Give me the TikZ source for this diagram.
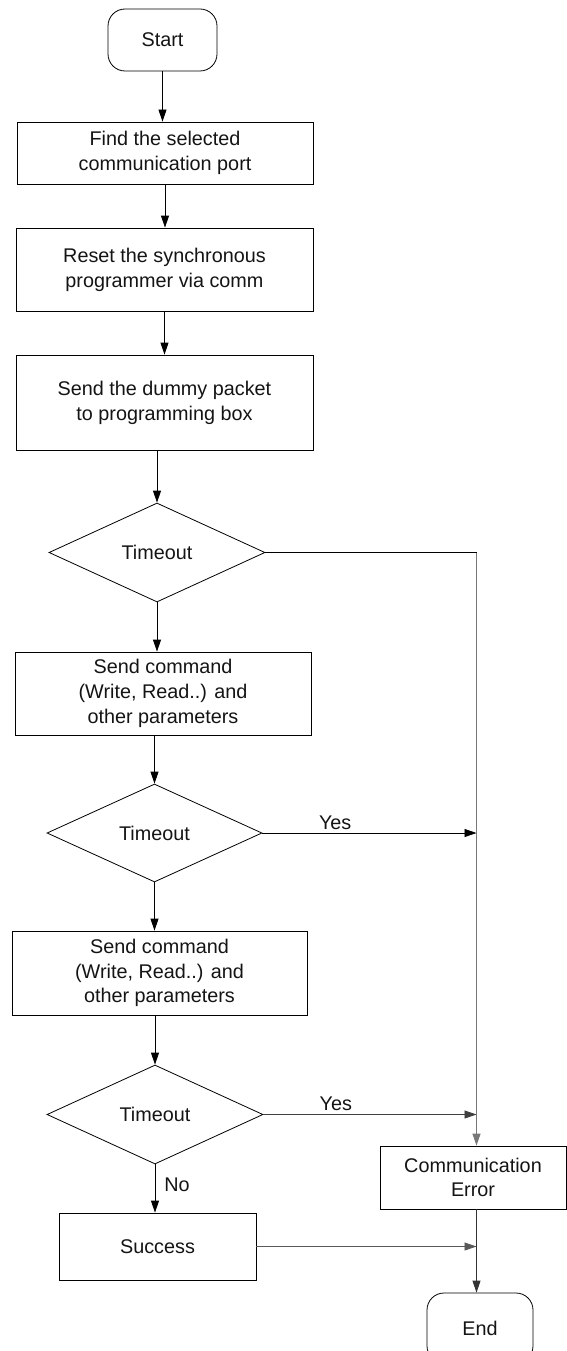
\documentclass[tikz,border=0pt]{standalone}
\usepackage{fontspec}
\setmainfont{Liberation Sans}
\usetikzlibrary{arrows.meta,shapes.geometric}
\definecolor{railgray}{RGB}{120,120,120}
\begin{document}
\begin{tikzpicture}[x=1pt,y=-1pt,
  font=\fontsize{19.8}{24.8}\selectfont,
  every node/.style={inner sep=0pt, align=center, text=black!92},
  proc/.style 2 args={draw, line width=0.8pt, rectangle, minimum width=#1, minimum height=#2},
  term/.style 2 args={draw, line width=0.8pt, rectangle, rounded corners=17pt, minimum width=#1, minimum height=#2},
  dec/.style 2 args={draw, line width=0.8pt, diamond, minimum width=#1, minimum height=#2},
  arr/.style={draw, line width=0.8pt, -{Triangle[length=12pt,width=8pt]}},
  plain/.style={draw, line width=0.8pt},
  lbl/.style={font=\fontsize{19.8}{22}\selectfont}]
\useasboundingbox (0,0) rectangle (566,1351);

\node[term={109pt}{62pt}] (start) at (162.5,40) {Start};
\node[proc={296pt}{62pt}] (b1) at (165,153) {Find the selected\\communication port};
\node[proc={297pt}{83pt}] (b2) at (164.5,269.5) {Reset the synchronous\\programmer via comm};
\node[proc={297pt}{95pt}] (b3) at (164.5,402.5) {Send the dummy packet\\to programming box};
\node[dec={216pt}{99pt}] (d1) at (157,552.5) {Timeout};
\node[proc={296pt}{83pt}] (b4) at (163,693.5) {Send command\\(Write, Read..) and\\other parameters};
\node[dec={215pt}{98pt}] (d2) at (154.5,833) {Timeout};
\node[proc={295pt}{84pt}] (b5) at (159.5,973) {Send command\\(Write, Read..) and\\other parameters};
\node[dec={216pt}{99pt}] (d3) at (155,1114.5) {Timeout};
\node[proc={197pt}{67pt}] (succ) at (157.5,1246.5) {Success};
\node[proc={186pt}{63pt}] (ce) at (473,1177.5) {Communication\\Error};
\node[term={106pt}{70pt}] (end) at (480,1328) {End};

\coordinate (rx) at (476.5,0);

% main column
\draw[arr] (start.south) -- (start.south |- b1.north);
\draw[arr] (b1.south) -- (b1.south |- b2.north);
\draw[arr] (b2.south) -- (b2.south |- b3.north);
\draw[arr] (b3.south -| d1.north) -- (d1.north);
\draw[arr] (d1.south) -- (d1.south |- b4.north);
\draw[arr] (b4.south -| d2.north) -- (d2.north);
\draw[arr] (d2.south) -- (d2.south |- b5.north);
\draw[arr] (b5.south -| d3.north) -- (d3.north);
\draw[arr] (d3.south) -- node[lbl, right=9pt, pos=0.42] (no) {No} (d3.south |- succ.north);

% right rail
\draw[plain] (d1.east) -- (d1.east -| rx);
\draw[arr, draw=railgray, line width=1.2pt] (d1.east -| rx) -- (rx |- ce.north);
\draw[arr] (d2.east) -- node[lbl, above=3pt, pos=0.34] (y1) {Yes} (d2.east -| rx);
\draw[arr, draw=black!75] (d3.east) -- node[lbl, above=3pt, pos=0.34] (y2) {Yes} (d3.east -| rx);
\draw[arr, draw=black!65] (succ.east) -- (succ.east -| rx);
\draw[arr, draw=black!80] (rx |- ce.south) -- (rx |- end.north);
\end{tikzpicture}
\end{document}
